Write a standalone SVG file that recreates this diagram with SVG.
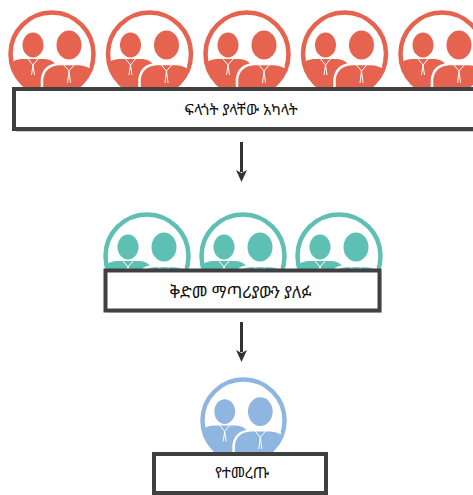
<svg xmlns="http://www.w3.org/2000/svg" xmlns:xlink="http://www.w3.org/1999/xlink" width="473" height="495" viewBox="0 0 473 495">
<style>
.box{fill:#ffffff;stroke:#404040;stroke-width:4}
.shadow{fill:#c8c8c8}
.lbl{font-family:"Noto Sans Ethiopic","Noto Sans","DejaVu Sans",sans-serif;font-size:15px;fill:#111111;text-anchor:middle}
.conn{stroke:#333333;stroke-width:3;fill:none}
.red{color:#e5634f}
.teal{color:#5ec0b2}
.blue{color:#8fb5e1}
</style>
<defs>
<clipPath id="inner"><circle cx="0" cy="0" r="40"/></clipPath>
<symbol id="icon" viewBox="-44 -44 88 88" overflow="visible">
<circle cx="0" cy="0" r="41.5" fill="#ffffff" stroke="currentColor" stroke-width="4.5"/>
<g clip-path="url(#inner)">
<path d="M-46 50 L-46 19 Q-44 6 -31 5 L-7 5 Q5 6 7 19 L7 50 Z" fill="currentColor"/>
<ellipse cx="-19" cy="-9" rx="10.5" ry="12.5" fill="currentColor"/>
<path d="M-10 50 L-10 25 Q-8 11 7 10 L27 10 Q43 11 46 25 L46 50 Z" fill="currentColor" stroke="#ffffff" stroke-width="2.5"/>
<ellipse cx="17" cy="-9" rx="12.5" ry="14.5" fill="currentColor"/>
<path d="M-24 5 L-19 11 L-14 5 M-19 11 L-20.5 21 M-19 11 L-17.5 21" stroke="#ffffff" stroke-width="1" fill="none"/>
<path d="M11 10 L17 17 L23 10 M17 17 L15.5 29 M17 17 L18.5 29" stroke="#ffffff" stroke-width="1" fill="none"/>
</g>
</symbol>
</defs>

<g id="connectors">
<line class="conn" x1="241.5" y1="142" x2="241.5" y2="172"/>
<path d="M236 170 L241.5 182 L247 170 L241.5 173 Z" fill="#333333"/>
<line class="conn" x1="241.5" y1="322" x2="241.5" y2="352"/>
<path d="M236 350 L241.5 362 L247 350 L241.5 353 Z" fill="#333333"/>
</g>

<g id="node-interested">
<use xlink:href="#icon" href="#icon" class="red" x="8" y="10" width="88" height="88"/>
<use xlink:href="#icon" href="#icon" class="red" x="105.5" y="10" width="88" height="88"/>
<use xlink:href="#icon" href="#icon" class="red" x="203" y="10" width="88" height="88"/>
<use xlink:href="#icon" href="#icon" class="red" x="300.5" y="10" width="88" height="88"/>
<use xlink:href="#icon" href="#icon" class="red" x="398" y="10" width="88" height="88"/>
<rect class="shadow" x="16" y="91" width="470" height="41"/>
<rect class="box" x="14" y="89" width="470" height="40"/>
<text class="lbl" x="241" y="115">ፍላጎት ያላቸው አካላት</text>
</g>

<g id="node-screened">
<use xlink:href="#icon" href="#icon" class="teal" x="103" y="212" width="88" height="88"/>
<use xlink:href="#icon" href="#icon" class="teal" x="199" y="212" width="88" height="88"/>
<use xlink:href="#icon" href="#icon" class="teal" x="295" y="212" width="88" height="88"/>
<rect class="shadow" x="107.5" y="272.5" width="274" height="40"/>
<rect class="box" x="105.5" y="270.5" width="274" height="40"/>
<text class="lbl" x="240.5" y="298" style="font-size:16.5px">ቅድመ ማጣሪያውን ያለፉ</text>
</g>

<g id="node-selected">
<use xlink:href="#icon" href="#icon" class="blue" x="200" y="377" width="87" height="87"/>
<rect class="shadow" x="156" y="456" width="172" height="39"/>
<rect class="box" x="154" y="454" width="172" height="39"/>
<text class="lbl" x="242" y="478">የተመረጡ</text>
</g>
</svg>
